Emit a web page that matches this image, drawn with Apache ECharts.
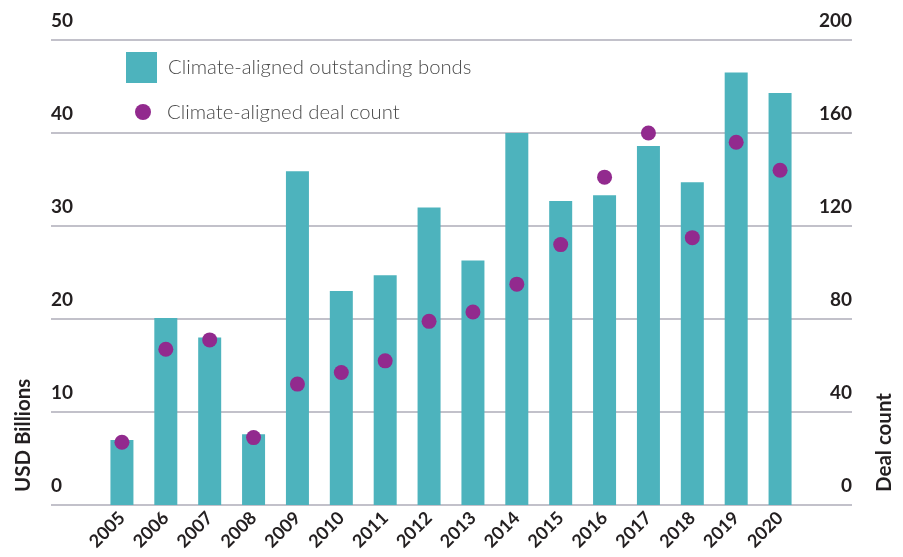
<!DOCTYPE html>
<html>
<head>
<meta charset="utf-8">
<script src="https://cdn.jsdelivr.net/npm/echarts@6/dist/echarts.min.js"></script>
<style>
  html, body { margin: 0; padding: 0; background: #fff; }
  #chart { width: 903px; height: 557px; }
</style>
</head>
<body>
<div id="chart"></div>
<script>
const years = ['2005', '2006', '2007', '2008', '2009', '2010', '2011', '2012',
    '2013', '2014', '2015', '2016', '2017', '2018', '2019', '2020'];
// USD billions, left axis
const outstandingBonds = [7.0, 20.1, 18.0, 7.6, 35.9, 23.0, 24.7, 32.0,
    26.3, 40.0, 32.7, 33.3, 38.6, 34.7, 46.5, 44.3];
// number of deals, right axis
const dealCount = [27, 67, 71, 29, 52, 57, 62, 79,
    83, 95, 112, 141, 160, 115, 156, 144];
const leftTicks = [0, 50, 10];   // min, max, step
const rightTicks = [0, 200, 40];

const bondName = 'Climate-aligned outstanding bonds';
const dealName = 'Climate-aligned deal count';

const teal = '#4db3bd';
const purple = '#922a8e';
const ink = '#231f20';
const gridColor = '#aeadb9';
const font = 'Lato';

let chart = echarts.init(document.getElementById('chart'));

const numLabel = {
    fontFamily: font,
    fontWeight: 'bold',
    fontSize: 19,
    color: ink,
    verticalAlign: 'bottom',
    lineHeight: 19,
    padding: [0, 0, 10, 0],
    inside: true,
    margin: 0
};

const legendText = {fontFamily: font, fontSize: 20.3, fontWeight: 300, color: '#4a4a4a', lineHeight: 20};

let option = {
    animation: false,
    grid: [
        {left: 51, right: 51, top: 40, bottom: 52},
        {left: 100, width: 702, top: 40, bottom: 52}
    ],
    legend: [
        {
            data: [bondName],
            left: 126, top: 52, padding: 0,
            itemWidth: 31, itemHeight: 31,
            selectedMode: false,
            icon: 'rect',
            textStyle: Object.assign({}, legendText, {padding: [0, 0, 0, 6]})
        },
        {
            data: [dealName],
            left: 135, top: 102, padding: 0,
            itemWidth: 38, itemHeight: 16,
            selectedMode: false,
            icon: 'circle',
            textStyle: legendText
        }
    ],
    xAxis: [
        {gridIndex: 0, type: 'value', show: false},
        {
            gridIndex: 1,
            type: 'category',
            data: years,
            axisLine: {show: false},
            axisTick: {show: false},
            axisLabel: {
                rotate: 45,
                margin: 10,
                fontFamily: font,
                fontWeight: 'bold',
                fontSize: 18,
                color: ink
            }
        }
    ],
    yAxis: [
        {
            gridIndex: 0, type: 'value', position: 'left',
            min: leftTicks[0], max: leftTicks[1], interval: leftTicks[2],
            axisLine: {show: false}, axisTick: {show: false},
            splitLine: {lineStyle: {color: gridColor, width: 1.5}},
            axisLabel: Object.assign({}, numLabel, {align: 'left'})
        },
        {
            gridIndex: 0, type: 'value', position: 'right',
            min: rightTicks[0], max: rightTicks[1], interval: rightTicks[2],
            axisLine: {show: false}, axisTick: {show: false},
            splitLine: {show: false},
            axisLabel: Object.assign({}, numLabel, {align: 'right'})
        },
        {
            gridIndex: 1, type: 'value', show: false,
            min: leftTicks[0], max: leftTicks[1], splitLine: {show: false}
        },
        {
            gridIndex: 1, type: 'value', show: false,
            min: rightTicks[0], max: rightTicks[1], splitLine: {show: false}
        }
    ],
    graphic: [
        {
            type: 'text', x: 23, y: 492, rotation: Math.PI / 2,
            style: {text: 'USD Billions', font: 'bold 20.5px ' + font, fill: ink,
                align: 'left', verticalAlign: 'middle'}
        },
        {
            type: 'text', x: 884, y: 492, rotation: Math.PI / 2,
            style: {text: 'Deal count', font: 'bold 20.5px ' + font, fill: ink,
                align: 'left', verticalAlign: 'middle'}
        }
    ],
    series: [
        {
            name: bondName,
            type: 'bar',
            xAxisIndex: 1, yAxisIndex: 2,
            data: outstandingBonds,
            barWidth: 23,
            itemStyle: {color: teal}
        },
        {
            name: dealName,
            type: 'scatter',
            xAxisIndex: 1, yAxisIndex: 3,
            data: dealCount,
            symbolSize: 15,
            itemStyle: {color: purple, opacity: 1}
        }
    ]
};
chart.setOption(option);
</script>
</body>
</html>
